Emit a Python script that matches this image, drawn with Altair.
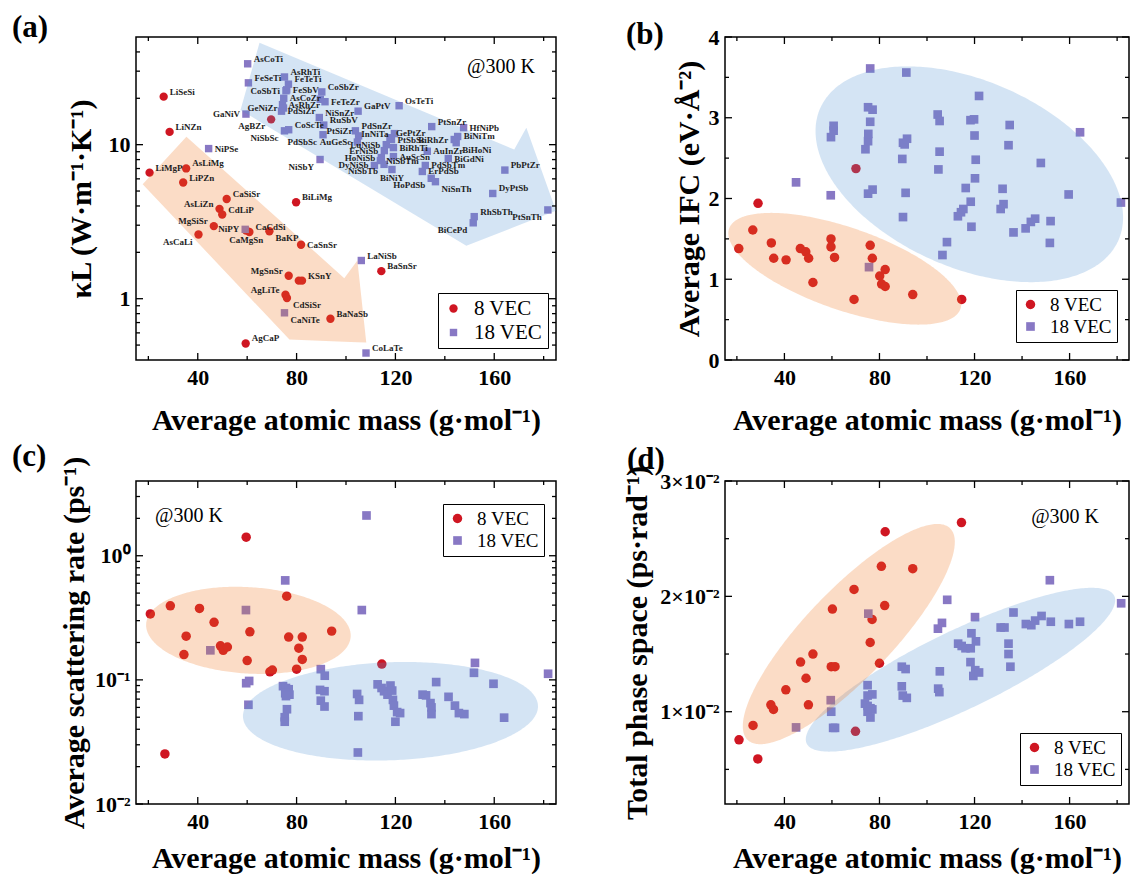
import altair as alt
import numpy as np
import pandas as pd

SERIF = "Liberation Serif"
RED = "#cf1622"
BLUE = "#8878c4"
ORANGE_FILL = "#ef731b"
BLUE_FILL = "#5393d3"
FILL_OPACITY = 0.25
VEC = ["8 VEC", "18 VEC"]

W1, W2, H = 420, 404, 323
X_DOMAIN = [15, 185]
X_LABELS = [40, 80, 120, 160]
X_MINOR = [20, 60, 100, 140, 180]
X_TITLE = "Average atomic mass (g·mol⁻¹)"

# ---------------- panel (a) data ----------------
A18_NAMES = ["AsCoTi", "FeSeTi", "AsRhTi", "FeTeTi", "FeSbV", "CoSbTi", "AsCoZr", "AsRhZr", "GeNiZr",
             "PdSiZr", "GaNiV", "NiSbSc", "CoScTe", "CoSbZr", "", "FeTeZr", "NiSnZr", "RuSbV", "PdSbSc",
             "GaPtV", "OsTeTi", "PtSiZr", "PdSnZr", "AuGeSc", "InNiTa", "GePtZr", "PtSbSc", "LuNiSb",
             "BiRhTi", "ErNiSb", "AuScSn", "HoNiSb", "NiSbTm", "DyNiSb", "NiSbTb", "BiNiY", "NiSbY",
             "PtSnZr", "HfNiPb", "BiNiTm", "BiRhZr", "BiHoNi", "AuInZr", "BiGdNi", "PdSbTm", "ErPdSb",
             "HoPdSb", "NiSnTh", "PbPtZr", "DyPtSb", "RhSbTh", "BiCePd", "PtSnTh", "LaNiSb", "CaNiTe",
             "CoLaTe", "NiPY", "NiPSe"]
A18_X = [60.2, 60.5, 75.1, 76.7, 76.0, 75.7, 74.8, 74.3, 74.7,
         73.9, 59.5, 75.1, 76.8, 90.2, 89.6, 91.5, 89.2, 91.0, 90.7,
         104.9, 121.5, 105.1, 103.8, 104.6, 119.6, 117.8, 118.4, 116.3,
         119.2, 115.5, 119.2, 114.3, 113.9, 111.5, 115.4, 118.6, 89.5,
         134.7, 147.6, 145.2, 143.8, 144.6, 132.9, 141.4, 132.1, 130.9,
         134.5, 136.2, 164.3, 159.4, 151.9, 151.5, 181.7, 106.2, 75.1,
         108.1, 59.2, 44.4]
A18_Y = [33.5, 25.2, 27.5, 24.7, 22.7, 22.4, 20.0, 18.2, 17.3,
         16.5, 15.8, 12.3, 12.5, 22.0, 19.7, 19.0, 15.0, 13.4, 11.6,
         16.5, 17.9, 11.4, 12.3, 10.4, 11.8, 11.1, 10.8, 10.0,
         9.57, 9.15, 8.37, 8.25, 7.89, 7.33, 7.45, 6.90, 8.01,
         13.1, 12.9, 11.3, 10.8, 10.3, 9.06, 8.13, 7.33, 6.70,
         6.05, 5.75, 6.84, 4.82, 3.41, 3.11, 3.77, 1.77, 0.81,
         0.444, 2.82, 9.43]

A8_NAMES = ["LiSeSi", "LiNZn", "LiMgP", "AsLiMg", "LiPZn", "CaSiSr", "AsLiZn", "CdLiP", "MgSiSr",
            "AsCaLi", "CaMgSn", "CaCdSi", "BaKP", "BiLiMg", "CaSnSr", "MgSnSr", "", "KSnY", "AgLiTe",
            "CdSiSr", "BaNaSb", "BaSnSr", "AgCaP", "AgBZr"]
A8_X = [26.2, 28.6, 20.5, 35.3, 34.1, 51.7, 48.8, 49.9, 46.5,
        40.3, 59.6, 60.9, 69.0, 79.8, 81.8, 76.8, 80.9, 82.2, 75.5,
        76.1, 93.7, 114.3, 59.4, 69.7]
A8_Y = [20.5, 12.1, 6.58, 7.01, 5.68, 4.44, 3.83, 3.52, 2.96,
        2.61, 2.77, 2.71, 2.74, 4.23, 2.24, 1.41, 1.31, 1.31, 1.06,
        1.01, 0.741, 1.51, 0.512, 14.6]

LABEL_SIDE = {
    "AsCoTi": "ur", "FeSeTi": "ur", "AsRhTi": "ur", "FeTeTi": "ur", "FeSbV": "r", "CoSbTi": "l",
    "AsCoZr": "r", "AsRhZr": "r", "GeNiZr": "l", "PdSiZr": "r", "GaNiV": "l", "NiSbSc": "dl",
    "CoScTe": "ur", "CoSbZr": "ur", "FeTeZr": "r", "NiSnZr": "ur", "RuSbV": "ur", "PdSbSc": "dl",
    "GaPtV": "ur", "OsTeTi": "ur", "PtSiZr": "ul", "PdSnZr": "ur", "AuGeSc": "l", "InNiTa": "l",
    "GePtZr": "ur", "PtSbSc": "r", "LuNiSb": "l", "BiRhTi": "r", "ErNiSb": "l", "AuScSn": "r",
    "HoNiSb": "l", "NiSbTm": "r", "DyNiSb": "l", "NiSbTb": "dl", "BiNiY": "d", "NiSbY": "dl",
    "PtSnZr": "ur", "HfNiPb": "r", "BiNiTm": "r", "BiRhZr": "l", "BiHoNi": "dr", "AuInZr": "r",
    "BiGdNi": "r", "PdSbTm": "r", "ErPdSb": "r", "HoPdSb": "dl", "NiSnTh": "dr", "PbPtZr": "ur",
    "DyPtSb": "ur", "RhSbTh": "ur", "BiCePd": "dl", "PtSnTh": "dl", "LaNiSb": "ur", "CaNiTe": "dr",
    "CoLaTe": "ur", "NiPY": "l", "NiPSe": "r",
    "LiSeSi": "ur", "LiNZn": "ur", "LiMgP": "ur", "AsLiMg": "ur", "LiPZn": "ur", "CaSiSr": "ur",
    "AsLiZn": "ul", "CdLiP": "ur", "MgSiSr": "ul", "AsCaLi": "dl", "CaMgSn": "d", "CaCdSi": "ur",
    "BaKP": "dr", "BiLiMg": "ur", "CaSnSr": "r", "MgSnSr": "ul", "KSnY": "ur", "AgLiTe": "ul",
    "CdSiSr": "dr", "BaNaSb": "ur", "BaSnSr": "ur", "AgCaP": "ur", "AgBZr": "dl",
}
SIDE_STYLE = {
    "r": ("left", "middle", 6, 0), "ur": ("left", "middle", 6, -5), "dr": ("left", "middle", 6, 7),
    "l": ("right", "middle", -6, 0), "ul": ("right", "middle", -6, -5), "dl": ("right", "middle", -6, 7),
    "d": ("center", "top", 0, 5),
}

# arrow outlines of panel (a): upper and lower chains (x, kappa)
BLUE_ARROW_UPPER = [(57.3, 16.8), (65.0, 45.9), (168.1, 9.29), (173.0, 12.9), (185.0, 3.72)]
BLUE_ARROW_LOWER = [(57.3, 16.8), (148.7, 2.21), (185.0, 3.72)]
ORANGE_ARROW_UPPER = [(17.7, 5.53), (35.4, 11.25), (99.3, 1.36), (104.6, 1.77), (108.2, 0.519)]
ORANGE_ARROW_LOWER = [(17.7, 5.53), (77.1, 0.543), (108.2, 0.519)]

# ---------------- panel (b) data ----------------
B8_X = [20.8, 26.7, 28.9, 34.5, 35.5, 40.7, 46.7, 49.0, 50.2, 52.0, 59.6, 59.6, 61.1, 69.3, 70.1,
        76.1, 77.0, 80.1, 80.9, 82.4, 82.4, 94.0, 114.6]
B8_Y = [1.38, 1.61, 1.94, 1.45, 1.26, 1.24, 1.38, 1.34, 1.26, 0.96, 1.50, 1.40, 1.27, 0.75, 2.37,
        1.42, 1.26, 1.04, 0.94, 1.12, 0.91, 0.81, 0.75]
B18_X = [44.9, 59.5, 59.6, 60.7, 60.7, 74.1, 75.2, 75.3, 75.2, 77.1, 76.1, 76.1, 75.6, 75.2, 77.1,
         91.3, 89.6, 89.9, 90.6, 91.6, 89.9, 91.0, 104.5, 105.3, 105.3, 104.8, 106.5, 108.4, 121.9,
         118.3, 119.8, 120.0, 120.5, 120.2, 116.3, 118.4, 118.7, 113.0, 114.3, 115.3, 134.8, 134.3,
         131.8, 132.2, 131.0, 136.4, 141.5, 143.7, 145.5, 147.9, 152.0, 151.7, 159.6, 164.4, 181.6]
B18_Y = [2.20, 2.04, 2.76, 2.84, 2.90, 2.61, 2.71, 2.80, 3.13, 3.10, 2.95, 3.61, 1.15, 2.06, 2.11,
         3.56, 2.49, 2.69, 2.67, 2.74, 1.77, 2.07, 3.04, 2.96, 2.58, 2.36, 1.30, 1.46, 3.27,
         2.97, 2.98, 2.78, 2.48, 2.25, 2.13, 1.96, 1.65, 1.78, 1.83, 1.87, 2.91, 2.66,
         2.12, 1.93, 1.87, 1.58, 1.63, 1.71, 1.75, 2.44, 1.72, 1.45, 2.05, 2.82, 1.95]

# ---------------- panel (c) data ----------------
C8_X = [20.8, 26.7, 28.9, 34.4, 35.3, 40.7, 46.6, 49.2, 50.3, 52.0, 59.6, 60.0, 61.1, 69.2, 70.2,
        76.0, 76.8, 80.0, 80.9, 82.3, 82.3, 94.2, 114.5]
C8_Y = [0.34, 0.0253, 0.395, 0.16, 0.225, 0.376, 0.291, 0.188, 0.173, 0.184, 1.41, 0.143, 0.244,
        0.116, 0.12, 0.472, 0.221, 0.122, 0.18, 0.221, 0.146, 0.247, 0.134]
C18_X = [45.1, 59.5, 59.6, 60.8, 60.5, 75.4, 74.5, 75.7, 76.8, 75.4, 77.1, 75.7, 76.1, 75.2, 75.2,
         89.8, 91.4, 89.5, 91.3, 89.8, 91.3, 106.4, 108.3, 104.5, 105.3, 105.0, 104.8,
         112.8, 114.4, 115.4, 116.8, 118.0, 118.7, 119.0, 119.4, 120.7, 121.9, 120.0,
         131.0, 132.4, 134.2, 134.6, 134.6, 136.5, 141.5, 144.1, 145.7, 147.9,
         151.8, 152.2, 159.7, 164.0, 181.8]
C18_Y = [0.173, 0.365, 0.094, 0.098, 0.063, 0.633, 0.089, 0.086, 0.084, 0.078, 0.076, 0.074, 0.058,
         0.050, 0.046, 0.122, 0.108, 0.083, 0.081, 0.068, 0.061, 0.365, 2.11, 0.077, 0.069, 0.051,
         0.026, 0.092, 0.086, 0.081, 0.076, 0.090, 0.082, 0.069, 0.062, 0.055, 0.054, 0.046,
         0.076, 0.075, 0.065, 0.060, 0.053, 0.096, 0.073, 0.062, 0.054, 0.053,
         0.114, 0.137, 0.093, 0.0496, 0.112]

# ---------------- panel (d) data ----------------
D8_X = [20.9, 26.8, 28.8, 34.3, 35.4, 40.6, 46.8, 49.1, 50.1, 52.0, 60.2, 59.7, 61.3, 69.3, 69.9,
        76.1, 76.9, 80.0, 80.8, 82.2, 82.4, 94.0, 114.5]
D8_Y = [0.00756, 0.00881, 0.00591, 0.0106, 0.0102, 0.0119, 0.0143, 0.0129, 0.0106, 0.0150, 0.0189,
        0.0139, 0.0139, 0.0206, 0.0083, 0.0160, 0.0180, 0.0142, 0.0226, 0.0192, 0.0256, 0.0224, 0.0264]
D18_X = [44.9, 59.5, 59.7, 60.5, 61.3, 75.3, 75.0, 77.0, 75.0, 73.9, 75.0, 76.2, 77.0, 75.0, 76.2,
         89.4, 91.0, 89.4, 89.8, 91.5, 104.6, 106.3, 108.5, 105.4, 104.7, 105.2,
         113.1, 114.6, 116.2, 118.4, 118.7, 120.2, 120.6, 118.3, 120.3, 119.5, 121.9,
         131.0, 132.6, 134.3, 134.3, 135.1, 136.4, 141.6, 143.9, 145.5, 148.2,
         151.7, 152.1, 159.7, 164.4, 181.7]
D18_Y = [0.00864, 0.0110, 0.0100, 0.0086, 0.0086, 0.0185, 0.0123, 0.0115, 0.0114, 0.0107, 0.0105,
         0.0103, 0.0102, 0.0100, 0.0095, 0.0139, 0.0137, 0.0122, 0.0114, 0.0112, 0.0172, 0.0177,
         0.0197, 0.0135, 0.0120, 0.0117, 0.0159, 0.0157, 0.0155, 0.0155, 0.0168, 0.0182, 0.0161,
         0.0143, 0.0136, 0.0131, 0.0134, 0.0173, 0.0173, 0.0159, 0.0150, 0.0139, 0.0186,
         0.0176, 0.0175, 0.0179, 0.0183, 0.0214, 0.0178, 0.0176, 0.0178, 0.0194]

# ellipse outlines: centre x, centre y, x half-extent, y half-extent, tilt correlation
B_ORANGE_ELL = (65.4, 1.13, 49.0, 0.692, -0.633)
B_BLUE_ELL = (117.8, 2.30, 64.7, 1.336, -0.40)
C_ORANGE_ELL = (60.5, -0.601, 41.4, 0.351, -0.12)   # y in log10
C_BLUE_ELL = (118.0, -1.253, 59.7, 0.397, 0.10)     # y in log10
D_ORANGE_ELL = (67.1, 0.01673, 44.6, 0.009545, 0.836)
D_BLUE_ELL = (114.1, 0.01364, 65.1, 0.0071, 0.849)


def ellipse_df(params, log=False, n=160):
    cx, cy, sx, sy, rho = params
    t = np.linspace(0.0, np.pi, n)
    u = -np.cos(t)
    xs = cx + sx * u
    mid = cy + rho * sy * u
    half = sy * np.sqrt(1 - rho ** 2) * np.sqrt(np.clip(1 - u ** 2, 0, None))
    hi, lo = mid + half, mid - half
    if log:
        hi, lo = 10 ** hi, 10 ** lo
    return pd.DataFrame({"sx": xs, "su": hi, "sl": lo})


def polygon_df(upper, lower, log=True):
    ux, uy = np.array(upper).T
    lx, ly = np.array(lower).T
    xs = np.array(sorted(set(ux) | set(lx)))
    f = np.log10 if log else (lambda v: v)
    yu = np.interp(xs, ux, f(uy))
    yl = np.interp(xs, lx, f(ly))
    if log:
        yu, yl = 10 ** yu, 10 ** yl
    return pd.DataFrame({"sx": xs, "su": yu, "sl": yl})


def pts_df(x8, y8, x18, y18):
    return pd.DataFrame({"x": list(x8) + list(x18), "y": list(y8) + list(y18),
                         "VEC": ["8 VEC"] * len(x8) + ["18 VEC"] * len(x18)})


def x_axis(width, title_y):
    return alt.Axis(values=X_LABELS, title=X_TITLE, ticks=False, tickSize=0, domain=False, grid=False,
                    labelFont=SERIF, labelFontSize=22, labelFontWeight="bold", labelColor="black",
                    labelPadding=7, labelOverlap=False,
                    titleFont=SERIF, titleFontSize=30, titleFontWeight="bold", titleColor="black",
                    titleX=width / 2, titleY=title_y, titleAlign="center", titleBaseline="middle")


def y_axis(title, title_x, values, label_expr):
    return alt.Axis(values=values, title=title, ticks=False, tickSize=0, domain=False, grid=False,
                    labelFont=SERIF, labelFontSize=22, labelFontWeight="bold", labelColor="black",
                    labelPadding=6, labelOverlap=False, labelExpr=label_expr,
                    titleFont=SERIF, titleFontSize=30, titleFontWeight="bold", titleColor="black",
                    titleX=title_x, titleY=H / 2, titleAngle=270, titleAlign="center",
                    titleBaseline="middle")


def legend(lx, ly, fs):
    return alt.Legend(orient="none", legendX=lx, legendY=ly, direction="vertical", title=None,
                      strokeColor="black", padding=5, labelFont=SERIF, labelFontSize=fs,
                      labelColor="black", labelOffset=10, symbolSize=85, symbolStrokeWidth=0,
                      symbolOpacity=1, rowPadding=2)


class Panel:
    def __init__(self, width, ys, xa, ya):
        self.width = width
        self.xs = alt.Scale(domain=X_DOMAIN, nice=False, zero=False)
        self.ys = ys
        self.xa = xa
        self.ya = ya
        self.layers = []

    def X(self, f):
        return alt.X(f, scale=self.xs, axis=self.xa)

    def Y(self, f):
        return alt.Y(f, scale=self.ys, axis=self.ya)

    def points(self, df, leg, csize, ssize):
        self.layers.append(alt.Chart(df).mark_point(filled=True, opacity=1, strokeWidth=0).encode(
            x=self.X("x:Q"), y=self.Y("y:Q"),
            color=alt.Color("VEC:N", scale=alt.Scale(domain=VEC, range=[RED, BLUE]), legend=leg),
            shape=alt.Shape("VEC:N", scale=alt.Scale(domain=VEC, range=["circle", "square"]), legend=leg),
            size=alt.Size("VEC:N", scale=alt.Scale(domain=VEC, range=[csize, ssize]), legend=None),
        ))

    def shape(self, df, color):
        self.layers.append(alt.Chart(df).mark_area(color=color, opacity=FILL_OPACITY, clip=True).encode(
            x=self.X("sx:Q"), y=self.Y("su:Q"), y2="sl:Q"))

    def ticks(self, ymaj, ymin):
        for vals, L in [(X_LABELS, 7), (X_MINOR, 4)]:
            base = alt.Chart(pd.DataFrame({"tx": vals})).mark_rule(color="black", strokeWidth=1.3)
            self.layers.append(base.encode(x=self.X("tx:Q"), y=alt.value(H), y2=alt.value(H - L)))
            self.layers.append(base.encode(x=self.X("tx:Q"), y=alt.value(0), y2=alt.value(L)))
        for vals, L in [(ymaj, 7), (ymin, 4)]:
            base = alt.Chart(pd.DataFrame({"ty": vals})).mark_rule(color="black", strokeWidth=1.3)
            self.layers.append(base.encode(y=self.Y("ty:Q"), x=alt.value(0), x2=alt.value(L)))
            self.layers.append(base.encode(y=self.Y("ty:Q"), x=alt.value(self.width),
                                           x2=alt.value(self.width - L)))

    def text(self, t, x, y, size, weight="bold", align="left"):
        self.layers.append(alt.Chart(pd.DataFrame({"t": [t]})).mark_text(
            font=SERIF, fontSize=size, fontWeight=weight, align=align, baseline="middle", color="black"
        ).encode(text="t:N", x=alt.value(x), y=alt.value(y)))

    def chart(self):
        return alt.layer(*self.layers).properties(width=self.width, height=H)


# ---------------- panel (a) ----------------
pa = Panel(W1, alt.Scale(type="log", domain=[0.4, 50], nice=False), x_axis(W1, 60),
           y_axis("κL (W·m⁻¹·K⁻¹)", -55, [1, 10], "datum.value > 5 ? '10' : '1'"))
pa.points(pts_df(A8_X, A8_Y, A18_X, A18_Y), legend(302, 256, 21), 70, 55)
pa.shape(polygon_df(BLUE_ARROW_UPPER, BLUE_ARROW_LOWER), BLUE_FILL)
pa.shape(polygon_df(ORANGE_ARROW_UPPER, ORANGE_ARROW_LOWER), ORANGE_FILL)
lab = pd.DataFrame({"name": A18_NAMES + A8_NAMES, "x": A18_X + A8_X, "y": A18_Y + A8_Y})
lab["side"] = lab["name"].map(LABEL_SIDE)
for side, (al, bl, dx, dy) in SIDE_STYLE.items():
    sub = lab[lab["side"] == side]
    if len(sub) == 0:
        continue
    pa.layers.append(alt.Chart(sub).mark_text(font=SERIF, fontSize=9, fontWeight="bold", color="#1e1e1e",
                                              align=al, baseline=bl, dx=dx, dy=dy).encode(
        x=pa.X("x:Q"), y=pa.Y("y:Q"), text="name:N"))
pa.ticks([1, 10], [0.5, 0.6, 0.7, 0.8, 0.9, 2, 3, 4, 5, 6, 7, 8, 9, 20, 30, 40])
pa.text("(a)", -124, -9, 31)
pa.text("@300 K", 365, 30, 20, "normal", "center")

# ---------------- panel (b) ----------------
pb = Panel(W2, alt.Scale(domain=[0, 4], nice=False, zero=False), x_axis(W2, 60),
           y_axis("Average IFC (eV·Å⁻²)", -36, [0, 1, 2, 3, 4], "format(datum.value, 'd')"))
pb.points(pts_df(B8_X, B8_Y, B18_X, B18_Y), legend(291, 253, 19), 90, 75)
pb.shape(ellipse_df(B_BLUE_ELL), BLUE_FILL)
pb.shape(ellipse_df(B_ORANGE_ELL), ORANGE_FILL)
pb.ticks([0, 1, 2, 3, 4], [0.5, 1.5, 2.5, 3.5])
pb.text("(b)", -99, -2, 31)

# ---------------- panel (c) ----------------
pc = Panel(W1, alt.Scale(type="log", domain=[0.01, 4], nice=False), x_axis(W1, 54),
           y_axis("Average scattering rate (ps⁻¹)", -62, [0.01, 0.1, 1],
                  "datum.value > 0.5 ? '10⁰' : (datum.value > 0.05 ? '10⁻¹' : '10⁻²')"))
pc.points(pts_df(C8_X, C8_Y, C18_X, C18_Y), legend(307, 23, 19), 90, 75)
pc.shape(ellipse_df(C_BLUE_ELL, log=True), BLUE_FILL)
pc.shape(ellipse_df(C_ORANGE_ELL, log=True), ORANGE_FILL)
pc.ticks([0.01, 0.1, 1], [0.02, 0.03, 0.04, 0.05, 0.06, 0.07, 0.08, 0.09,
                          0.2, 0.3, 0.4, 0.5, 0.6, 0.7, 0.8, 0.9, 2, 3])
pc.text("(c)", -124, -24, 31)
pc.text("@300 K", 19, 35, 20, "normal", "left")

# ---------------- panel (d) ----------------
pd_ = Panel(W2, alt.Scale(domain=[0.002, 0.03], nice=False, zero=False), x_axis(W2, 54),
            y_axis("Total phase space (ps·rad⁻¹)", -88, [0.01, 0.02, 0.03],
                   "format(datum.value * 100, '.0f') + '×10⁻²'"))
pd_.points(pts_df(D8_X, D8_Y, D18_X, D18_Y), legend(295, 252, 19), 90, 75)
pd_.shape(ellipse_df(D_BLUE_ELL), BLUE_FILL)
pd_.shape(ellipse_df(D_ORANGE_ELL), ORANGE_FILL)
pd_.ticks([0.01, 0.02, 0.03], [0.005, 0.015, 0.025])
pd_.text("(d)", -98, -21, 31)
pd_.text("@300 K", 374, 36, 20, "normal", "right")

chart = alt.concat(pa.chart(), pb.chart(), pc.chart(), pd_.chart(), columns=2,
                   spacing={"row": 121, "column": 169}, bounds="flush").resolve_scale(
    color="independent", shape="independent", size="independent"
).properties(padding={"left": 3, "top": 3, "right": 0, "bottom": 0}).configure_view(
    stroke="black", strokeWidth=1.5)

chart.save("out.html", embed_options={"renderer": "svg", "actions": False})
